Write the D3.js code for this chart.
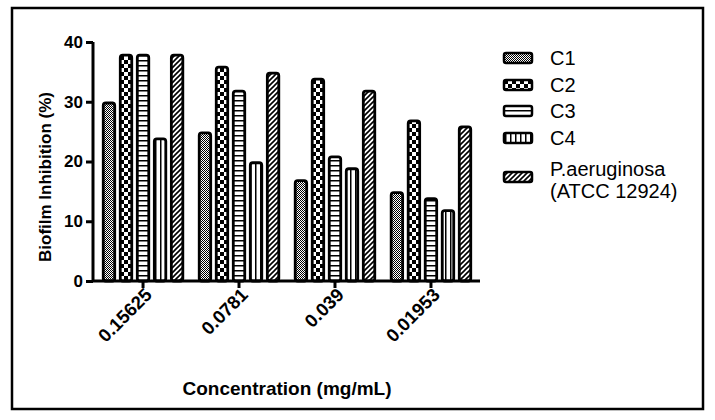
<!DOCTYPE html>
<html><head><meta charset="utf-8">
<script src="https://cdn.jsdelivr.net/npm/d3@7"></script>
<style>body{margin:0;background:#fff}svg{display:block}text{font-family:Arial,"Liberation Sans",sans-serif}</style>
</head><body><svg id="c" width="715" height="420"></svg>
<script>
const categories = ["0.15625","0.0781","0.039","0.01953"];
const seriesNames = ["C1","C2","C3","C4","P.aeruginosa (ATCC 12924)"];
const C1 = [30,25,17,15];
const C2 = [38,36,34,27];
const C3 = [38,32,21,14];
const C4 = [24,20,19,12];
const PA = [38,35,32,26];
const yTicks = [0,10,20,30,40];
const seriesValues = [C1,C2,C3,C4,PA];

const svg = d3.select("#c");
const defs = svg.append("defs");
function pat(id,w,h,draw){const p=defs.append("pattern").attr("id",id).attr("patternUnits","userSpaceOnUse").attr("width",w).attr("height",h);p.append("rect").attr("width",w).attr("height",h).attr("fill","#fff");draw(p);}
pat("p0",2,2,p=>{p.append("rect").attr("width",1).attr("height",1).attr("fill","#000");p.append("rect").attr("x",1).attr("y",1).attr("width",1).attr("height",1).attr("fill","#000");});
pat("p1",8,8,p=>{p.append("rect").attr("width",4).attr("height",4).attr("fill","#000");p.append("rect").attr("x",4).attr("y",4).attr("width",4).attr("height",4).attr("fill","#000");});
pat("p2",4,5,p=>{p.append("rect").attr("y",0).attr("width",4).attr("height",1.5).attr("fill","#000");});
pat("p3",5,4,p=>{p.append("rect").attr("x",0).attr("width",1.5).attr("height",4).attr("fill","#000");});
pat("p4",5,5,p=>{p.append("path").attr("d","M-1,6 L6,-1 M-1,1 L1,-1 M4,6 L6,4").attr("stroke","#000").attr("stroke-width",1.6);});
const fills=["url(#p0)","url(#p1)","url(#p2)","url(#p3)","url(#p4)"];
const FONT="Arial, Liberation Sans, sans-serif";

svg.append("rect").attr("x",12).attr("y",8).attr("width",691).attr("height",401).attr("fill","none").attr("stroke","#000").attr("stroke-width",2.5);

const y = d3.scaleLinear().domain([0,40]).range([281,42]);
const x0 = d3.scaleBand().domain(categories).range([95,479]).paddingInner(0.145).paddingOuter(0.073);
const x1 = d3.scaleBand().domain(d3.range(5)).range([0,x0.bandwidth()]).paddingInner(0.18);

const g = svg.append("g");
categories.forEach((c,ci)=>{
  seriesValues.forEach((vals,si)=>{
    const bx = x0(c)+x1(si), bw = x1.bandwidth();
    g.append("rect").attr("x",bx+1.25).attr("y",y(vals[ci])+1.25).attr("width",bw-2.5).attr("height",y(0)-y(vals[ci])-1.25)
      .attr("fill",fills[si]).attr("stroke","#000").attr("stroke-width",2.8).attr("rx",2.5);
  });
});

const ya = svg.append("g").attr("transform","translate(93,0)").call(d3.axisLeft(y).tickValues(yTicks).tickSize(7).tickPadding(3));
ya.select(".domain").attr("d","M0,"+y(40)+"V"+y(0)).attr("stroke-width",3);
ya.selectAll(".tick line").attr("stroke-width",3);
ya.selectAll("text").attr("font-size",17).attr("font-weight","bold").attr("font-family",FONT).attr("fill","#000");

const xa = svg.append("g").attr("transform","translate(0,"+y(0)+")").call(d3.axisBottom(x0).tickSize(7).tickSizeOuter(0));
xa.select(".domain").attr("d","M92,0H480").attr("stroke-width",3);
xa.selectAll(".tick line").attr("stroke-width",3);
xa.selectAll("text").attr("font-size",18.5).attr("font-weight","bold").attr("font-family",FONT)
  .attr("text-anchor","end").attr("dy",0).attr("transform","translate(10,15) rotate(-45)").attr("y",0).attr("fill","#000");

svg.append("text").attr("x",287).attr("y",395).attr("text-anchor","middle").attr("font-size",19).attr("font-weight","bold").text("Concentration (mg/mL)");
svg.append("text").attr("transform","translate(51,177) rotate(-90)").attr("text-anchor","middle").attr("font-size",17).attr("font-weight","bold").text("Biofilm Inhibition (%)");

const ly=[58,85,111,138,177];
seriesNames.forEach((n,i)=>{
  svg.append("rect").attr("x",504).attr("y",ly[i]-5).attr("width",28).attr("height",10).attr("rx",2).attr("fill",fills[i]).attr("stroke","#000").attr("stroke-width",2.5);
});
["C1","C2","C3","C4"].forEach((t,i)=>svg.append("text").attr("x",550).attr("y",ly[i]+7).attr("font-size",20).text(t));
const lt = svg.append("text").attr("x",550).attr("y",176).attr("font-size",20);
lt.append("tspan").attr("x",550).text("P.aeruginosa");
lt.append("tspan").attr("x",550).attr("y",198).text("(ATCC 12924)");
</script></body></html>
